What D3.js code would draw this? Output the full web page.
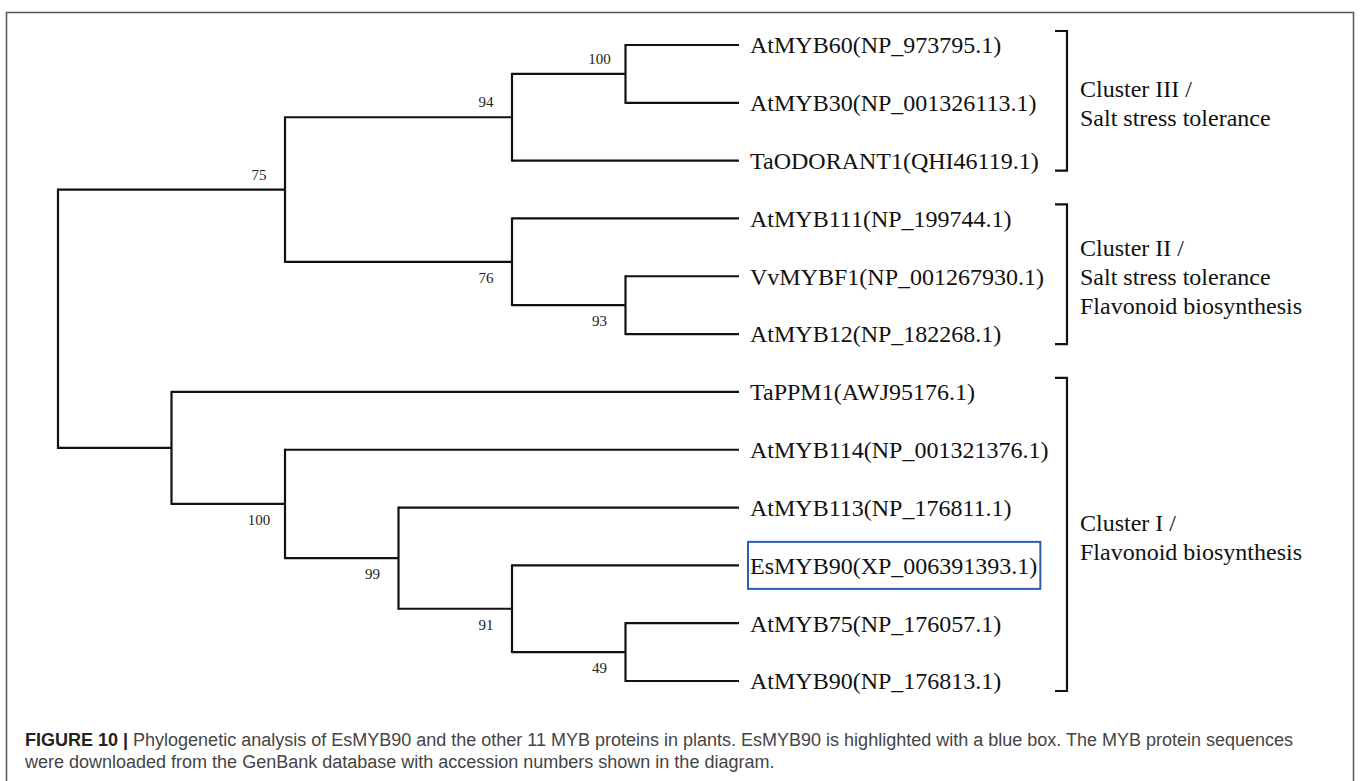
<!DOCTYPE html>
<html>
<head>
<meta charset="utf-8">
<script src="https://cdn.jsdelivr.net/npm/d3@7"></script>
<style>
  html, body { margin: 0; padding: 0; background: #fff; }
  svg { display: block; }
</style>
</head>
<body>
<svg id="chart" width="1360" height="781"></svg>
<script>
// tree topology: internal nodes, their parents, bootstrap support and column level
const nodeIds = ["root", "c1", "n94", "n100a", "n76", "n93", "c2", "n100b", "n99", "n91", "n49"];
const nodeParents = [null, "root", "c1", "n94", "c1", "n76", "root", "c2", "n100b", "n99", "n91"];
const nodeSupport = [null, 75, 94, 100, 76, 93, null, 100, 99, 91, 49];
const nodeLevel = [0, 2, 4, 5, 4, 5, 1, 2, 3, 4, 5];

// leaves, top to bottom
const leafNames = [
  "AtMYB60(NP_973795.1)",
  "AtMYB30(NP_001326113.1)",
  "TaODORANT1(QHI46119.1)",
  "AtMYB111(NP_199744.1)",
  "VvMYBF1(NP_001267930.1)",
  "AtMYB12(NP_182268.1)",
  "TaPPM1(AWJ95176.1)",
  "AtMYB114(NP_001321376.1)",
  "AtMYB113(NP_176811.1)",
  "EsMYB90(XP_006391393.1)",
  "AtMYB75(NP_176057.1)",
  "AtMYB90(NP_176813.1)"
];
const leafParents = ["n100a", "n100a", "n94", "n76", "n93", "n93", "c2", "n100b", "n99", "n91", "n49", "n49"];
const leafLevel = 6;
const highlighted = "EsMYB90(XP_006391393.1)";

// clusters (leaf index ranges) and their notes
const clusterStart = [0, 3, 6];
const clusterEnd = [2, 5, 11];
const clusterLines = [
  ["Cluster III /", "Salt stress tolerance"],
  ["Cluster II /", "Salt stress tolerance", "Flavonoid biosynthesis"],
  ["Cluster I /", "Flavonoid biosynthesis"]
];

const captionBold = "FIGURE 10 |";
const captionLines = [
  " Phylogenetic analysis of EsMYB90 and the other 11 MYB proteins in plants. EsMYB90 is highlighted with a blue box. The MYB protein sequences",
  "were downloaded from the GenBank database with accession numbers shown in the diagram."
];

const svg = d3.select("#chart");
const serif = "'Liberation Serif', 'Times New Roman', serif";
const sans = "'Liberation Sans', Arial, Helvetica, sans-serif";

// frame
svg.append("rect")
  .attr("x", 6.5).attr("y", 12.5)
  .attr("width", 1347).attr("height", 800)
  .attr("fill", "none")
  .attr("stroke", "#555")
  .attr("stroke-width", 1.5);

// build hierarchy
const rows = nodeIds.map((id, i) => ({ id, parent: nodeParents[i], support: nodeSupport[i], level: nodeLevel[i] }))
  .concat(leafNames.map((name, i) => ({ id: name, parent: leafParents[i], support: null, level: leafLevel, leaf: true })));
const root = d3.stratify().id(d => d.id).parentId(d => d.parent)(rows);

const x = d3.scaleLinear().domain([0, leafLevel]).range([58, 739]);
const y = d3.scalePoint().domain(leafNames).range([45, 681]);

// positions: leaves from the point scale, internal nodes at midpoint of children
root.eachAfter(n => {
  n.px = x(n.data.level);
  if (!n.children) {
    n.py = y(n.data.id);
  } else {
    const ys = n.children.map(c => c.py);
    n.py = (d3.min(ys) + d3.max(ys)) / 2;
  }
});

const g = svg.append("g");

// vertical connectors
g.selectAll("line.v")
  .data(root.descendants().filter(n => n.children))
  .enter().append("line")
  .attr("class", "v")
  .attr("x1", d => d.px).attr("x2", d => d.px)
  .attr("y1", d => d3.min(d.children, c => c.py) - 1)
  .attr("y2", d => d3.max(d.children, c => c.py) + 1)
  .attr("stroke", "#111").attr("stroke-width", 2.2);

// horizontal branches
g.selectAll("line.h")
  .data(root.descendants().filter(n => n.parent))
  .enter().append("line")
  .attr("class", "h")
  .attr("x1", d => d.parent.px).attr("x2", d => d.px)
  .attr("y1", d => d.py).attr("y2", d => d.py)
  .attr("stroke", "#111").attr("stroke-width", 2.2);

// bootstrap values
g.selectAll("text.boot")
  .data(root.descendants().filter(n => n.data.support != null))
  .enter().append("text")
  .attr("class", "boot")
  .attr("x", d => d.px - 26)
  .attr("y", d => d.py < d.parent.py ? d.py - 10 : d.py + 21)
  .attr("text-anchor", "middle")
  .style("font-family", serif)
  .style("font-size", "15px")
  .attr("fill", "#222")
  .text(d => d.data.support);

// leaf labels
const leafText = g.selectAll("text.leaf")
  .data(root.leaves())
  .enter().append("text")
  .attr("class", "leaf")
  .attr("x", 750)
  .attr("y", d => d.py)
  .attr("dy", "0.35em")
  .style("font-family", serif)
  .style("font-size", "24px")
  .attr("fill", "#111")
  .text(d => d.data.id);

// blue highlight box
leafText.filter(d => d.data.id === highlighted).each(function(d) {
  const bb = this.getBBox();
  g.append("rect")
    .attr("x", bb.x - 2)
    .attr("y", d.py - 23.5)
    .attr("width", bb.width + 5)
    .attr("height", 47)
    .attr("fill", "none")
    .attr("stroke", "#2d5db3")
    .attr("stroke-width", 2);
});

// cluster brackets
const bx = 1067;
clusterLines.forEach((lines, i) => {
  const top = y(leafNames[clusterStart[i]]) - 14;
  const bot = y(leafNames[clusterEnd[i]]) + 10;
  g.append("path")
    .attr("d", `M${bx - 12},${top}H${bx}V${bot}H${bx - 12}`)
    .attr("fill", "none")
    .attr("stroke", "#111")
    .attr("stroke-width", 2.2);
  const mid = (top + bot) / 2;
  const t = g.append("text")
    .style("font-family", serif)
    .style("font-size", "24px")
    .attr("fill", "#111");
  lines.forEach((s, j) => {
    t.append("tspan")
      .attr("x", 1080)
      .attr("y", mid - (lines.length - 1) * 14.5 + 11 + j * 29)
      .text(s);
  });
});

// caption
const cap = svg.append("text")
  .attr("x", 25).attr("y", 746)
  .style("font-family", sans)
  .style("font-size", "18px")
  .attr("fill", "#444");
cap.append("tspan").attr("font-weight", "bold").attr("fill", "#222").text(captionBold);
cap.append("tspan").text(captionLines[0]);
svg.append("text")
  .attr("x", 25).attr("y", 768)
  .style("font-family", sans)
  .style("font-size", "18px")
  .attr("fill", "#444")
  .text(captionLines[1]);
</script>
</body>
</html>
